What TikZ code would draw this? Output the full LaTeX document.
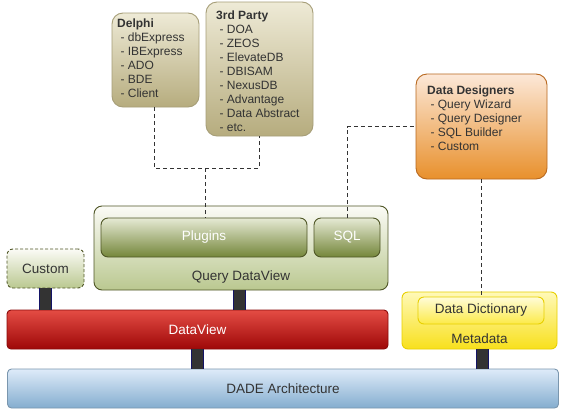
\documentclass[tikz,border=0pt]{standalone}
\usepackage{fontspec}
\setmainfont{Liberation Sans}
\usetikzlibrary{shadings}
\definecolor{tanT}{HTML}{EEEAD6}
\definecolor{tanB}{HTML}{B6AC7E}
\definecolor{tanD}{HTML}{A69E78}
\definecolor{orgT}{HTML}{FCE8D8}
\definecolor{orgB}{HTML}{E8902C}
\definecolor{orgD}{HTML}{B8681E}
\definecolor{qdvT}{HTML}{FBFBF6}
\definecolor{qdvB}{HTML}{BAC890}
\definecolor{olvD}{HTML}{4F5626}
\definecolor{plgT}{HTML}{E6EAD4}
\definecolor{plgB}{HTML}{74863A}
\definecolor{redT}{HTML}{E44C44}
\definecolor{redB}{HTML}{9E0808}
\definecolor{redD}{HTML}{8A0A0A}
\definecolor{ylwT}{HTML}{FFF9B8}
\definecolor{ylwB}{HTML}{F8E01C}
\definecolor{ylwD}{HTML}{E8D000}
\definecolor{ddT}{HTML}{FFFCD8}
\definecolor{ddB}{HTML}{FCEA48}
\definecolor{bluT}{HTML}{DEEBF9}
\definecolor{bluB}{HTML}{84ADCF}
\definecolor{bluD}{HTML}{7A96AE}
\definecolor{txt}{HTML}{333333}
\definecolor{conn}{HTML}{333333}
\definecolor{connD}{HTML}{141466}
\tikzset{
  box/.style={rectangle, inner sep=0pt, line width=0.9pt},
  callout/.style={box, rounded corners=11pt, top color=tanT, bottom color=tanB, draw=tanD},
  orgbox/.style={box, rounded corners=11pt, top color=orgT, bottom color=orgB, draw=orgD},
  qdvbox/.style={box, rounded corners=8pt, top color=qdvT, bottom color=qdvB, draw=olvD},
  plgbox/.style={box, rounded corners=7pt, top color=plgT, bottom color=plgB, draw=olvD, text=white, font=\fontsize{13.5}{16}\selectfont},
  redbox/.style={box, rounded corners=4pt, top color=redT, bottom color=redB, draw=redD, text=white, font=\fontsize{13.5}{16}\selectfont},
  ylwbox/.style={box, rounded corners=6pt, top color=ylwT, bottom color=ylwB, draw=ylwD},
  ddbox/.style={box, rounded corners=6pt, top color=ddT, bottom color=ddB, draw=ylwD, text=txt, font=\fontsize{13.5}{16}\selectfont},
  blubox/.style={box, rounded corners=4pt, top color=bluT, bottom color=bluB, draw=bluD, text=txt, font=\fontsize{13.5}{16}\selectfont},
  lbl/.style={inner sep=0pt, text=txt, font=\fontsize{13.5}{16}\selectfont},
  list/.style={inner sep=0pt, text=txt, align=left, anchor=north west, font=\fontsize{12}{14}\selectfont},
  dashline/.style={draw=txt, line width=0.9pt, dash pattern=on 4pt off 3pt},
  bar/.style={draw=connD, line width=0.8pt, double=conn, double distance=11.5pt},
}
\begin{document}
\begin{tikzpicture}[x=1pt,y=-1pt]
\useasboundingbox[fill=white] (0,0) rectangle (561,410);
% callout boxes
\node[callout, minimum width=87pt, minimum height=94pt] (delphi) at (155.5,60) {};
\node[list] (delphiT) at (117,19) {\textbf{Delphi}\\\ - dbExpress\\\ - IBExpress\\\ - ADO\\\ - BDE\\\ - Client};
\node[callout, minimum width=107pt, minimum height=134pt] (third) at (259.5,69) {};
\node[list] (thirdT) at (216,10.5) {\textbf{3rd Party}\\\ - DOA\\\ - ZEOS\\\ - ElevateDB\\\ - DBISAM\\\ - NexusDB\\\ - Advantage\\\ - Data Abstract\\\ - etc.};
\node[orgbox, minimum width=131pt, minimum height=105pt] (dd) at (481.5,126.5) {};
\node[list] (ddT) at (427,86) {\textbf{Data Designers}\\\ - Query Wizard\\\ - Query Designer\\\ - SQL Builder\\\ - Custom};
% query dataview
\node[qdvbox, minimum width=294pt, minimum height=84pt] (qdv) at (241,248) {};
\node[plgbox, minimum width=206pt, minimum height=39pt] (plugins) at (204,237.5) {Plugins};
\node[plgbox, minimum width=66pt, minimum height=39pt] (sql) at (347,237.5) {SQL};
\node[lbl] (qdvT) at (241,277) {Query DataView};
\node[qdvbox, rounded corners=6pt, dashed, dash pattern=on 3pt off 2pt, minimum width=77pt, minimum height=39pt, lbl, text=txt] (custom) at (45.5,268.5) {Custom};
% dataview
\node[redbox, minimum width=381pt, minimum height=39pt] (dv) at (197.5,329.5) {DataView};
% metadata
\node[ylwbox, minimum width=155pt, minimum height=57pt] (meta) at (479.5,320.5) {};
\node[ddbox, minimum width=126pt, minimum height=27pt] (dict) at (481,310.5) {Data Dictionary};
\node[lbl] (metaT) at (479.5,339) {Metadata};
% dade
\node[blubox, minimum width=551pt, minimum height=39pt] (dade) at (283,388.5) {DADE Architecture};
% bars
\draw[bar] (custom.south) -- (custom.south |- dv.north);
\draw[bar] ([xshift=-1.5pt]qdv.south) -- ([xshift=-1.5pt]qdv.south |- dv.north);
\draw[bar] (dv.south) -- (dv.south |- dade.north);
\draw[bar] ([xshift=3pt]meta.south) -- ([xshift=3pt]meta.south |- dade.north);
% dashed connectors
\coordinate (j) at (205,168);
\draw[dashline] ([xshift=-1.5pt]delphi.south) |- (j) -| (third.south);
\draw[dashline] (j) -- (j |- plugins.north);
\draw[dashline] (sql.north) |- (dd.west);
\draw[dashline] (dd.south) -- (dd.south |- dict.north);
\end{tikzpicture}
\end{document}
